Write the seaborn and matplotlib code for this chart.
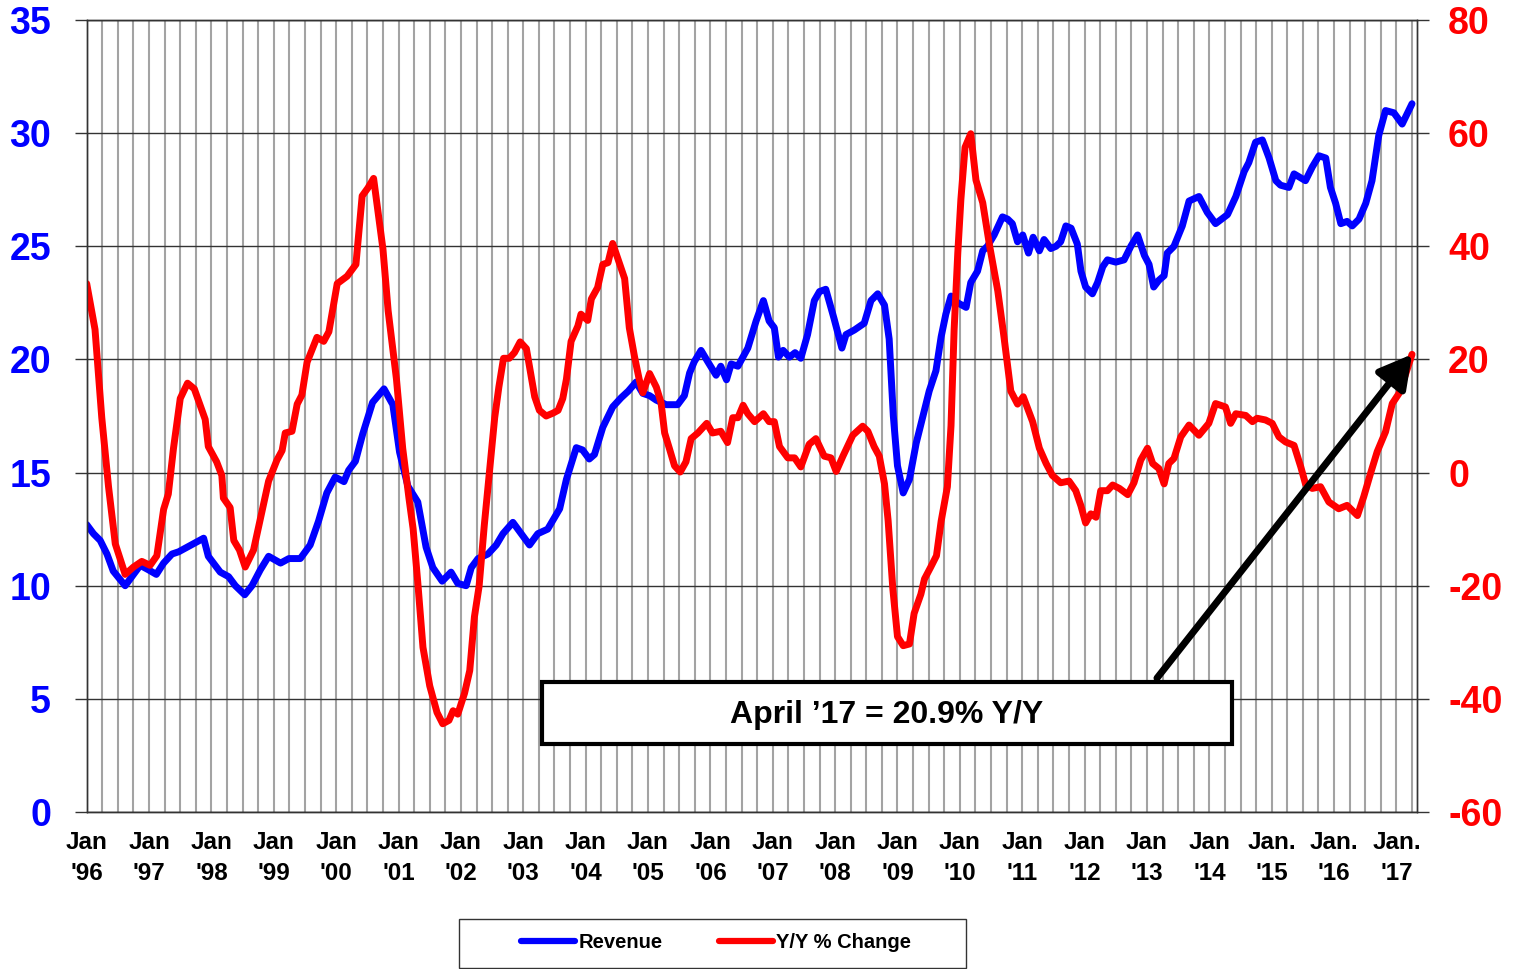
import matplotlib
matplotlib.use("Agg")
import matplotlib.pyplot as plt
import matplotlib.patches as mpatches
from matplotlib.lines import Line2D
import numpy as np
import pandas as pd
import seaborn as sns

# Months counted from Jan 1996 (0) to Apr 2017 (255)
rev_month = [0, 1.3, 2.6, 3.9, 5.1, 7.4, 8.7, 10.3, 11.9, 13.4, 14.8, 16.4, 17.7, 19.3, 20.9,
             22.5, 23.4, 25.7, 27.3, 28.6, 30.4, 31.8, 33.4, 35.0, 37.3, 38.9, 41.1, 43.0, 44.6,
             46.2, 47.8, 49.5, 50.4, 51.7, 53.1, 55.0, 57.2, 58.9, 60.2, 61.8, 63.7, 65.3, 66.6,
             68.4, 70.1, 71.4, 73.0, 74.0, 75.3, 77.2, 78.8, 80.1, 82.0, 83.6, 85.2, 86.8, 88.7,
             91.0, 92.3, 94.2, 95.4, 96.7, 97.7, 99.3, 101.2, 102.8, 104.2, 105.7, 107.0, 108.3,
             109.6, 111.5, 113.7, 115.0, 116.0, 116.9, 118.2, 119.5, 121.1, 122.0, 123.1, 124.0,
             125.3, 127.2, 128.8, 130.2, 131.3, 132.3, 133.1, 134.0, 135.2, 136.3, 137.4, 138.7,
             140.0, 141.0, 142.2, 143.8, 145.3, 146.1, 147.7, 149.6, 150.9, 152.2, 153.5, 154.4,
             155.2, 156.0, 157.1, 158.3, 159.6, 160.8, 162.1, 163.4, 164.4, 165.3, 166.3, 167.6,
             169.2, 170.1, 171.4, 172.4, 173.3, 174.6, 176.2, 177.2, 178.1, 179.1, 180.1, 181.2,
             182.1, 183.3, 184.2, 185.5, 186.5, 187.4, 188.4, 189.4, 190.6, 191.3, 192.2, 193.5,
             194.5, 195.5, 196.4, 198.0, 199.6, 200.9, 202.2, 203.5, 204.4, 205.3, 206.3, 207.3,
             207.9, 209.2, 210.8, 212.1, 214.0, 215.6, 217.2, 219.5, 221.1, 222.7, 223.6, 224.9,
             226.2, 227.5, 228.8, 229.7, 231.3, 232.3, 234.5, 235.8, 237.1, 238.4, 239.3, 240.3,
             241.3, 242.5, 243.5, 244.8, 246.1, 247.3, 248.6, 249.9, 251.5, 253.1, 255.0]
rev_value = [12.7, 12.3, 12.0, 11.4, 10.65, 10.0, 10.4, 10.9, 10.7, 10.5, 11.0, 11.4, 11.5, 11.7, 11.9,
             12.1, 11.3, 10.6, 10.4, 10.0, 9.6, 10.0, 10.7, 11.3, 11.0, 11.2, 11.2, 11.8, 12.85,
             14.1, 14.8, 14.6, 15.1, 15.5, 16.7, 18.1, 18.7, 18.0, 15.9, 14.4, 13.7, 11.7, 10.8,
             10.2, 10.6, 10.1, 10.0, 10.8, 11.2, 11.4, 11.8, 12.3, 12.8, 12.3, 11.8, 12.3, 12.5,
             13.4, 14.7, 16.1, 16.0, 15.6, 15.8, 17.0, 17.9, 18.3, 18.6, 19.0, 18.5, 18.4,
             18.2, 18.0, 18.0, 18.4, 19.4, 19.9, 20.4, 19.9, 19.3, 19.7, 19.1, 19.8,
             19.7, 20.5, 21.7, 22.6, 21.7, 21.4, 20.1, 20.4, 20.1, 20.3, 20.05, 21.1,
             22.6, 23.0, 23.1, 21.8, 20.5, 21.1, 21.3, 21.6, 22.6, 22.9, 22.4, 20.9,
             17.5, 15.3, 14.1, 14.7, 16.3, 17.4, 18.6, 19.5, 21.0, 22.0, 22.8, 22.5,
             22.3, 23.4, 23.9, 24.8, 25.0, 25.5, 26.3, 26.2, 26.0, 25.2, 25.5, 24.7,
             25.4, 24.8, 25.3, 24.9, 25.0, 25.2, 25.9, 25.8, 25.1, 23.9, 23.2, 22.9,
             23.4, 24.1, 24.4, 24.3, 24.4, 25.0, 25.5, 24.6, 24.2, 23.2, 23.5, 23.7,
             24.7, 25.0, 25.9, 27.0, 27.2, 26.5, 26.0, 26.4, 27.2, 28.3, 28.7, 29.6,
             29.7, 28.9, 27.9, 27.7, 27.6, 28.2, 27.9, 28.5, 29.0, 28.9, 27.6, 26.9,
             26.0, 26.1, 25.9, 26.2, 26.9, 27.9, 29.9, 31.0, 30.9, 30.4, 31.3]

yoy_month = [0, 1.6, 2.9, 4.2, 5.5, 7.4, 9.0, 10.6, 12.2, 13.5, 14.8, 15.7, 16.7, 18.0, 19.4, 20.7,
             22.8, 23.4, 25.0, 26.0, 26.3, 27.6, 28.3, 29.4, 30.5, 32.1, 33.4, 35.0, 36.6, 37.6,
             38.2, 39.5, 40.5, 41.4, 42.4, 44.3, 45.6, 46.6, 48.2, 50.1, 51.8, 53.0, 54.1, 55.2,
             57.0, 58.0, 59.6, 60.8, 62.0, 62.8, 63.7, 64.7, 66.0, 67.4, 68.5, 69.7, 70.5, 71.4,
             72.7, 73.7, 74.6, 75.5, 76.5, 77.5, 78.5, 79.3, 80.2, 81.3, 82.3, 83.4, 84.6, 85.5,
             86.2, 87.1, 88.4, 89.7, 90.7, 91.6, 92.3, 93.2, 94.5, 95.1, 96.4, 97.1, 98.3, 99.3,
             100.3, 101.2, 102.2, 103.5, 104.4, 105.4, 106.3, 107.0, 108.3, 109.6, 110.5, 111.2,
             112.1, 113.1, 114.2, 115.3, 116.3, 117.6, 119.3, 120.4, 122.0, 123.3, 124.3, 125.3,
             126.3, 127.2, 128.5, 130.2, 131.3, 132.3, 133.3, 134.9, 136.2, 137.4, 139.0, 140.3,
             141.9, 143.2, 144.2, 145.5, 147.4, 149.3, 150.3, 151.5, 152.5, 153.5, 154.2, 155.1,
             156.0, 157.1, 158.3, 159.2, 160.5, 161.2, 162.4, 163.5, 164.4, 165.6, 166.3, 166.9,
             167.6, 168.2, 169.0, 170.1, 171.1, 172.4, 173.7, 175.3, 176.5, 177.8, 179.1, 180.2,
             182.0, 183.3, 184.6, 185.8, 187.4, 189.0, 190.3, 191.3, 192.2, 193.2, 194.2, 195.1,
             196.4, 197.4, 198.7, 200.3, 201.5, 202.8, 204.1, 205.1, 206.3, 207.3, 208.2, 209.2,
             210.5, 212.1, 214.0, 215.9, 217.2, 219.1, 220.1, 221.1, 223.0, 224.3, 225.2, 226.8,
             228.1, 229.4, 230.7, 232.3, 233.6, 234.5, 235.8, 237.4, 239.0, 240.9, 242.5, 244.5,
             245.7, 247.0, 248.3, 249.9, 251.2, 252.5, 253.8, 255.0]
yoy_value = [33.4, 25.3, 9.7, -2.5, -12.6, -18.0, -16.7, -15.7, -16.4, -14.7, -6.5, -3.8, 4.3, 13.1, 15.8, 14.8,
             9.4, 4.6, 1.9, -0.5, -4.5, -6.2, -12.0, -13.7, -16.7, -13.7, -8.2, -1.5, 2.2, 3.9,
             7.0, 7.3, 12.1, 13.7, 19.5, 23.9, 23.2, 24.9, 33.4, 34.7, 36.8, 48.9, 50.3, 52.0,
             39.5, 28.6, 16.5, 4.3, -4.5, -9.9, -19.4, -30.9, -37.7, -42.4, -44.4, -43.8, -42.1, -42.7,
             -39.0, -35.0, -25.5, -20.1, -9.3, 0.2, 9.7, 15.1, 20.2, 20.2, 21.2, 23.1, 21.9, 17.1,
             13.4, 11.0, 10.0, 10.5, 11.0, 13.1, 16.5, 23.2, 25.9, 28.0, 26.9, 30.7, 32.7, 36.8,
             37.1, 40.5, 37.8, 34.3, 25.6, 20.5, 16.5, 14.1, 17.5, 15.1, 12.4, 7.0,
             4.3, 1.2, 0.1, 1.9, 6.0, 7.0, 8.7, 7.0, 7.3, 5.3, 9.7, 9.7,
             11.9, 10.4, 9.0, 10.4, 9.0, 9.0, 4.6, 2.6, 2.6, 1.0, 5.0, 6.0,
             2.9, 2.6, 0.2, 2.9, 6.6, 8.2, 7.3, 4.6, 2.9, -2.0, -8.5, -20.5,
             -29.0, -30.6, -30.3, -24.9, -21.5, -18.8, -16.7, -14.7, -8.6, -2.5, 8.3, 25.3,
             38.8, 48.3, 57.5, 59.9, 51.7, 47.7, 40.2, 32.1, 23.9, 14.4, 12.1, 13.4,
             9.0, 4.3, 1.6, -0.5, -1.8, -1.5, -3.2, -5.9, -8.9, -7.3, -7.9, -3.2,
             -3.2, -2.2, -2.8, -3.9, -1.8, 2.2, 4.3, 1.6, 0.7, -2.0, 1.6, 2.5,
             6.3, 8.4, 6.6, 8.7, 12.2, 11.6, 8.7, 10.4, 10.1, 9.0, 9.6, 9.3,
             8.7, 6.3, 5.4, 4.8, 1.0, -2.0, -2.8, -2.5, -5.2, -6.4, -5.8, -7.6,
             -4.3, -0.2, 3.7, 7.2, 12.2, 14.0, 17.5, 20.9]

year_ticks = np.arange(0, 253, 12)
year_labels = ["Jan\n'96", "Jan\n'97", "Jan\n'98", "Jan\n'99", "Jan\n'00", "Jan\n'01", "Jan\n'02",
               "Jan\n'03", "Jan\n'04", "Jan\n'05", "Jan\n'06", "Jan\n'07", "Jan\n'08", "Jan\n'09",
               "Jan\n'10", "Jan\n'11", "Jan\n'12", "Jan\n'13", "Jan\n'14", "Jan.\n'15", "Jan.\n'16",
               "Jan.\n'17"]

rev = pd.DataFrame({"month": rev_month, "value": rev_value})
yoy = pd.DataFrame({"month": yoy_month, "value": yoy_value})

sns.set_style("white")
plt.rcParams['font.family'] = ['Liberation Sans', 'DejaVu Sans']
plt.rcParams['font.weight'] = 'bold'
plt.rcParams['axes.unicode_minus'] = False
plt.rcParams['text.color'] = 'black'

BLUE = '#0000ff'
RED = '#ff0000'
DARK = '#333333'

fig = plt.figure(figsize=(15.22, 9.69), dpi=100)
ax = fig.add_axes([86.7 / 1522, 1 - 812 / 969, 1330 / 1522, 792 / 969])
ax2 = ax.twinx()

sns.lineplot(data=rev, x="month", y="value", ax=ax, color=BLUE, lw=5,
             solid_capstyle='round', solid_joinstyle='round')
sns.lineplot(data=yoy, x="month", y="value", ax=ax2, color=RED, lw=5,
             solid_capstyle='round', solid_joinstyle='round')

ax.set_xlim(0, 255.9)
ax.set_ylim(0, 35)
ax2.set_ylim(-60, 80)
ax.set_yticks(np.arange(0, 36, 5))
ax2.set_yticks(np.arange(-60, 81, 20))
ax.set_xticks(year_ticks)
ax.set_xticks(np.arange(0, 256, 3), minor=True)
ax.set_xticklabels(year_labels)
for t in ax.get_xticklabels():
    t.set_linespacing(1.4)

ax.set_xlabel("")
ax.set_ylabel("")
ax2.set_ylabel("")

ax.grid(axis='x', which='both', color='#a3a3a3', lw=1.5)
ax.grid(axis='y', which='major', color=DARK, lw=1)
ax2.grid(False)

ax.tick_params(axis='x', which='both', length=0, pad=14, labelsize=17.5, labelcolor='black')
ax.tick_params(axis='y', length=8.6, width=1, color=DARK, pad=17, labelsize=27, labelcolor=BLUE)
ax2.tick_params(axis='y', length=8.6, width=1, color=DARK, pad=14, labelsize=27, labelcolor=RED)

for a in (ax, ax2):
    for s in a.spines.values():
        s.set_color(DARK)
        s.set_linewidth(1)

# annotation box and arrow
ax2.add_patch(mpatches.Rectangle((0.342, 0.0859), 0.5195, 0.0783, transform=ax2.transAxes,
                                 facecolor='white', edgecolor='black', lw=3, zorder=5))
ax2.text(0.6017, 0.122, "April \u201917 = 20.9% Y/Y", transform=ax2.transAxes,
         ha='center', va='center', fontsize=23, fontweight='bold', color='black', zorder=6)
ax2.annotate('', xy=(yoy_month[-1], yoy_value[-1]), xycoords='data',
             xytext=(0.8047, 0.169), textcoords='axes fraction',
             arrowprops=dict(arrowstyle='-|>,head_length=0.9,head_width=0.5', color='black',
                             lw=5, mutation_scale=22, shrinkA=0, shrinkB=0), zorder=7)

# legend
handles = [Line2D([], [], color=BLUE, lw=4.5, solid_capstyle='round'),
           Line2D([], [], color=RED, lw=4.5, solid_capstyle='round')]
fig.legend(handles, ["Revenue", "Y/Y % Change"], loc='center',
           bbox_to_anchor=(716 / 1522, 1 - 943 / 969), ncol=2, frameon=False,
           fontsize=14.5, handlelength=2.7, handletextpad=0.15, columnspacing=2.8,
           labelcolor='black')
fig.add_artist(mpatches.Rectangle((459 / 1522, 1 - 968 / 969), 507 / 1522, 49 / 969,
                                  transform=fig.transFigure, fill=False, edgecolor=DARK, lw=1))

fig.savefig("out.png", dpi=100)
